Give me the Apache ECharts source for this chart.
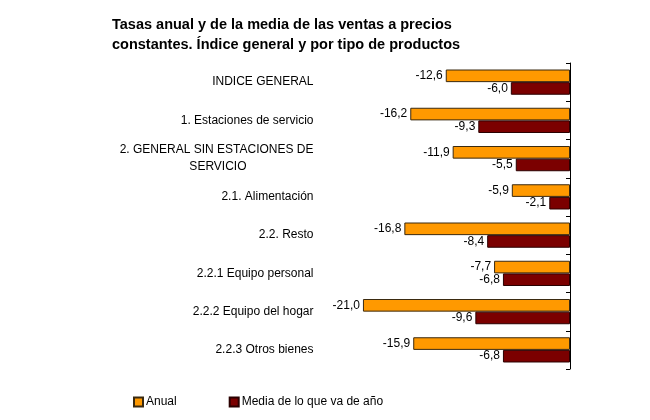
<!DOCTYPE html>
<html>
<head>
<meta charset="utf-8">
<script src="https://cdn.jsdelivr.net/npm/echarts@6/dist/echarts.min.js"></script>
<style>
  html, body { margin: 0; padding: 0; background: #fff; }
  #chart { width: 650px; height: 420px; }
</style>
</head>
<body>
<div id="chart"></div>
<script>
var categories = [
  'INDICE GENERAL',
  '1. Estaciones de servicio',
  '2. GENERAL SIN ESTACIONES DE SERVICIO',
  '2.1. Alimentación',
  '2.2. Resto',
  '2.2.1 Equipo personal',
  '2.2.2 Equipo del hogar',
  '2.2.3 Otros bienes'
];
var anual = [-12.6, -16.2, -11.9, -5.9, -16.8, -7.7, -21.0, -15.9];
var mediaAnio = [-6.0, -9.3, -5.5, -2.1, -8.4, -6.8, -9.6, -6.8];

var dom = document.getElementById('chart');
var chart = echarts.init(dom, null, { renderer: 'canvas' });

var fontFam = 'Liberation Sans, Arial, sans-serif';

function fmtComma(p) {
  return p.value.toFixed(1).replace('.', ',');
}

var option = {
  animation: false,
  textStyle: { fontFamily: fontFam },
  title: {
    text: 'Tasas anual y de la media de las ventas a precios\nconstantes. Índice general y por tipo de productos',
    left: 107,
    top: 10,
    textStyle: {
      fontSize: 14.5,
      fontWeight: 'bold',
      color: '#000',
      lineHeight: 20,
      fontFamily: fontFam
    }
  },
  legend: {
    left: 128,
    top: 391,
    icon: 'rect',
    itemWidth: 9,
    itemHeight: 9,
    itemGap: 52,
    textStyle: { fontSize: 12, color: '#000', padding: [0, 0, 0, -2] },
    data: ['Anual', 'Media de lo que va de año']
  },
  grid: {
    left: 323.5,
    right: 80,
    top: 63,
    bottom: 51
  },
  xAxis: {
    type: 'value',
    min: -25,
    max: 0,
    show: false
  },
  yAxis: [
    {
      type: 'category',
      data: categories,
      inverse: true,
      position: 'right',
      axisLine: { show: true, lineStyle: { color: '#000', width: 1 } },
      axisTick: { show: true, inside: true, length: 4, lineStyle: { color: '#000' } },
      axisLabel: { show: false }
    },
    {
      type: 'category',
      data: categories,
      inverse: true,
      position: 'left',
      axisLine: { show: false },
      axisTick: { show: false },
      axisLabel: {
        margin: 10,
        fontSize: 12,
        color: '#000',
        formatter: function (v) {
          if (v === '2. GENERAL SIN ESTACIONES DE SERVICIO') {
            return '{a|2. GENERAL SIN ESTACIONES DE}\n{b|SERVICIO}';
          }
          return v;
        },
        rich: {
          a: { fontSize: 12, color: '#000', lineHeight: 17 },
          b: { fontSize: 12, color: '#000', lineHeight: 17, padding: [0, 67, 0, 0] }
        }
      }
    }
  ],
  series: [
    {
      name: 'Anual',
      type: 'bar',
      yAxisIndex: 0,
      data: anual,
      barGap: '0%',
      barCategoryGap: '34%',
      itemStyle: { color: '#FF9900', borderColor: '#3a2a10', borderWidth: 1 },
      label: {
        show: true,
        position: 'left',
        distance: 3,
        fontSize: 12,
        color: '#000',
        formatter: fmtComma
      }
    },
    {
      name: 'Media de lo que va de año',
      type: 'bar',
      yAxisIndex: 0,
      data: mediaAnio,
      barGap: '0%',
      barCategoryGap: '34%',
      itemStyle: { color: '#7B0000', borderColor: '#2a0000', borderWidth: 1 },
      label: {
        show: true,
        position: 'left',
        distance: 3,
        fontSize: 12,
        color: '#000',
        formatter: fmtComma
      }
    }
  ]
};

chart.setOption(option);
window.addEventListener('resize', chart.resize);
</script>
</body>
</html>
